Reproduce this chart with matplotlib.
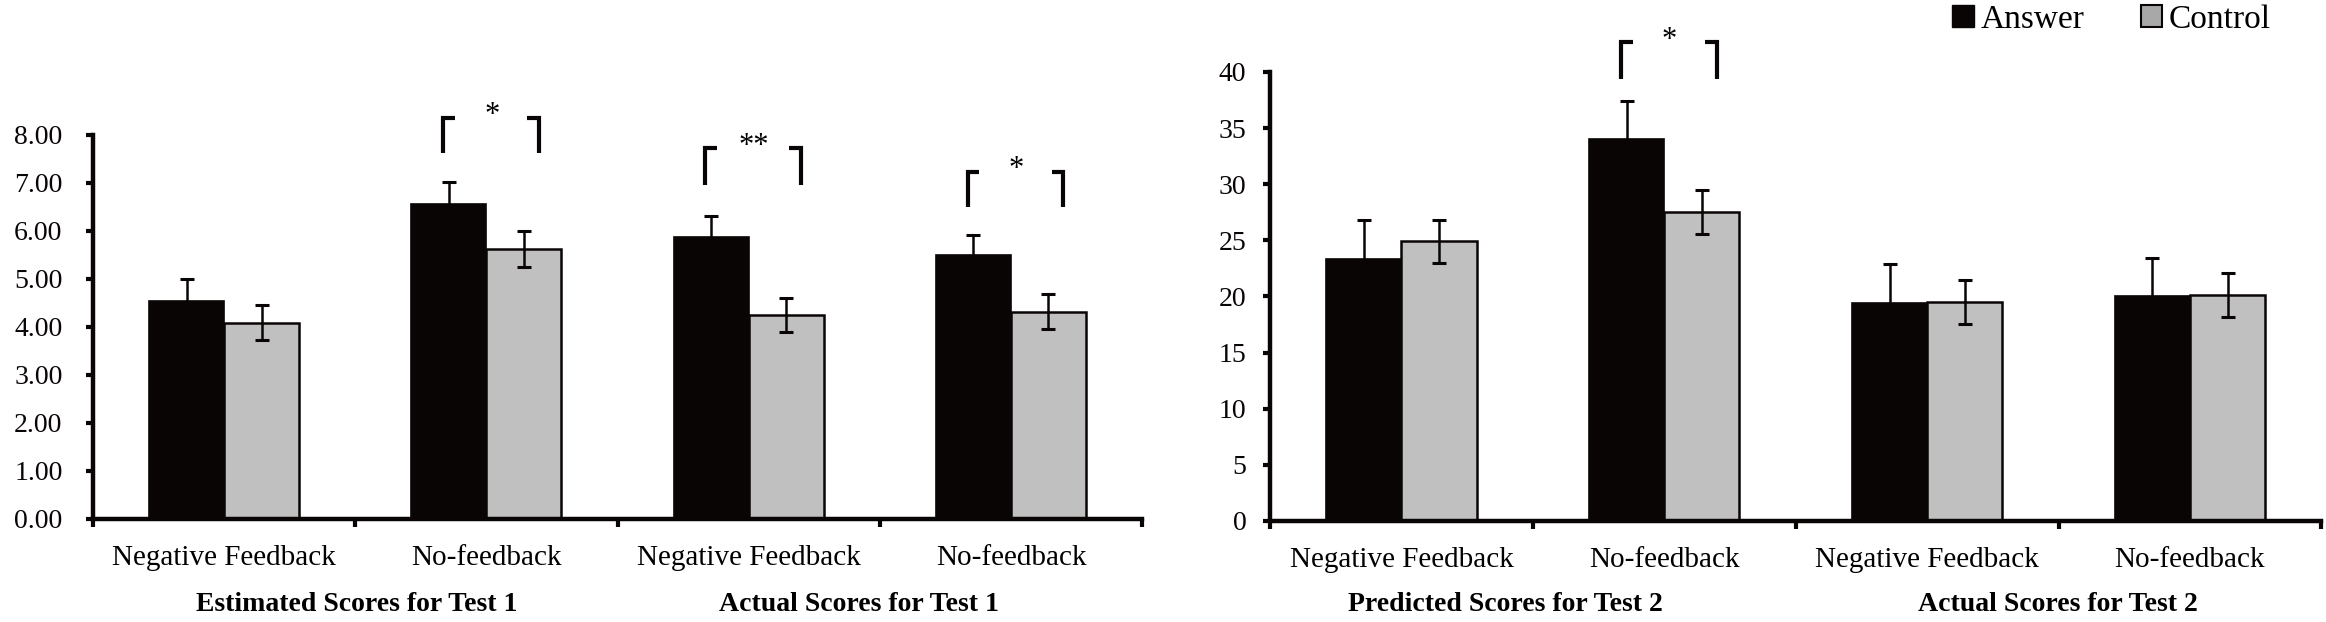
import numpy as np
import matplotlib
matplotlib.use("Agg")
import matplotlib.pyplot as plt
import matplotlib.transforms as mtransforms
from matplotlib.patches import Patch

plt.rcParams['font.family'] = 'serif'
plt.rcParams['font.serif'] = ['Liberation Serif', 'DejaVu Serif']

# data
categories = ["Negative Feedback", "No-feedback", "Negative Feedback", "No-feedback"]

test1_answer = [4.55, 6.57, 5.88, 5.49]
test1_answer_err = [0.45, 0.45, 0.43, 0.43]
test1_control = [4.09, 5.63, 4.25, 4.32]
test1_control_err = [0.36, 0.37, 0.35, 0.36]
test1_groups = ["Estimated Scores for Test 1", "Actual Scores for Test 1"]

test2_answer = [23.3, 34.0, 19.4, 20.0]
test2_answer_err = [3.5, 3.4, 3.45, 3.4]
test2_control = [24.9, 27.5, 19.5, 20.1]
test2_control_err = [1.95, 1.95, 1.95, 1.95]
test2_groups = ["Predicted Scores for Test 2", "Actual Scores for Test 2"]

# significance brackets: (category, label, bracket bottom, bracket top, star y)
test1_sig = [(1, "*", 7.62, 8.35, 8.40),
             (2, "**", 6.96, 7.73, 7.75),
             (3, "*", 6.50, 7.23, 7.28)]
test2_sig = [(1, "*", 39.4, 42.7, 42.8)]

BLACK = "#0a0505"
GRAY = "#c0c0c0"
W = 0.286

fig = plt.figure(figsize=(23.26, 6.22), dpi=100)
ax1 = fig.add_axes([0.040, 0.1656, 0.451, 0.6174])
ax2 = fig.add_axes([0.546, 0.1624, 0.452, 0.7219])


def draw_panel(ax, ans, ans_err, ctl, ctl_err, groups, group_x, sig, ymax, ystep, fmt, lpad):
    x = np.arange(len(categories))
    ax.bar(x - W / 2, ans, W, color=BLACK, edgecolor=BLACK, linewidth=1.2, zorder=2)
    ax.bar(x + W / 2, ctl, W, color=GRAY, edgecolor=BLACK, linewidth=1.8, zorder=2)
    ax.errorbar(x - W / 2, ans, yerr=ans_err, fmt='none', ecolor=BLACK,
                elinewidth=1.8, capsize=5, capthick=2.2, zorder=3)
    ax.errorbar(x + W / 2, ctl, yerr=ctl_err, fmt='none', ecolor=BLACK,
                elinewidth=1.8, capsize=5, capthick=2.2, zorder=3)

    ax.set_xlim(-0.5, len(categories) - 0.5)
    ax.set_ylim(0, ymax)
    ax.set_yticks(np.arange(0, ymax + ystep / 2, ystep))
    ax.set_yticklabels([fmt % v for v in np.arange(0, ymax + ystep / 2, ystep)], fontsize=20)
    ax.tick_params(axis='y', direction='out', length=5, width=3, pad=lpad, colors=BLACK)

    ax.set_xticks(np.arange(-0.5, len(categories), 1.0))
    ax.set_xticklabels([])
    ax.tick_params(axis='x', which='major', direction='out', length=6, width=3, colors=BLACK)
    ax.set_xticks(x, minor=True)
    ax.set_xticklabels(categories, minor=True, fontsize=21)
    ax.tick_params(axis='x', which='minor', length=0, pad=19)

    for s in ['top', 'right']:
        ax.spines[s].set_visible(False)
    for s in ['left', 'bottom']:
        ax.spines[s].set_linewidth(3.2)
        ax.spines[s].set_color(BLACK)
        ax.spines[s].set_zorder(4)

    trans = mtransforms.blended_transform_factory(ax.transData, fig.transFigure)
    for name, gx in zip(groups, group_x):
        ax.text(gx, 0.028, name, transform=trans, ha='center',
                va='center', fontsize=20, fontweight='bold', clip_on=False)

    arm = 0.045
    for cat, label, lo, hi, sy in sig:
        xl = cat - 0.165
        xr = cat + 0.20
        ax.plot([xl, xl, xl + arm], [lo, hi, hi], color=BLACK, lw=3, clip_on=False,
                solid_capstyle='butt', solid_joinstyle='miter')
        ax.plot([xr - arm, xr, xr], [hi, hi, lo], color=BLACK, lw=3, clip_on=False,
                solid_capstyle='butt', solid_joinstyle='miter')
        ax.text(cat + 0.02, sy, label, ha='center', va='center', fontsize=22, clip_on=False)


draw_panel(ax1, test1_answer, test1_answer_err, test1_control, test1_control_err,
           test1_groups, [0.507, 2.42], test1_sig, 8, 1, "%.2f", 17)
draw_panel(ax2, test2_answer, test2_answer_err, test2_control, test2_control_err,
           test2_groups, [0.397, 2.496], test2_sig, 40, 5, "%d", 12)

handles = [Patch(facecolor=BLACK, edgecolor=BLACK, label="Answer"),
           Patch(facecolor="#a8a8a8", edgecolor=BLACK, linewidth=1.5, label="Control")]
fig.legend(handles=handles, loc='upper right', bbox_to_anchor=(0.985, 1.025), ncol=2,
           frameon=False, fontsize=24, handlelength=0.65, handleheight=0.65,
           handletextpad=0.2, columnspacing=1.7, borderaxespad=0.2)

fig.savefig("out.png", dpi=100)
